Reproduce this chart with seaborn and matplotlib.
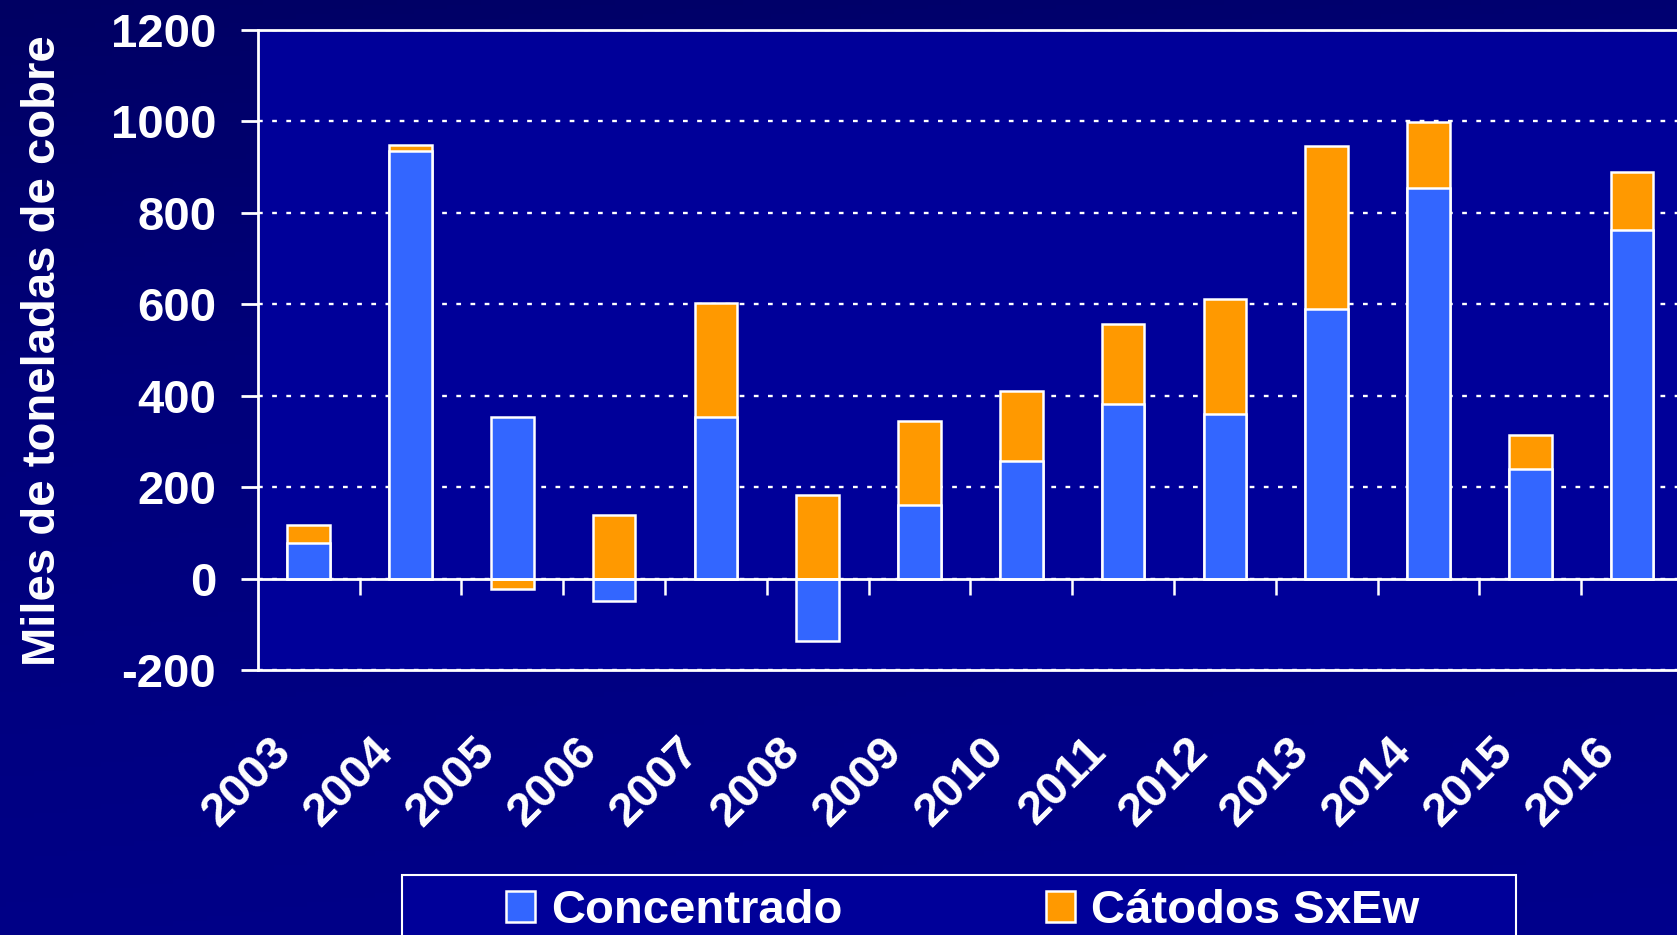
import numpy as np
import pandas as pd
import matplotlib
matplotlib.use("Agg")
import matplotlib.pyplot as plt
import matplotlib.transforms as mtransforms
from matplotlib.patches import Rectangle
from matplotlib.colors import LinearSegmentedColormap
import seaborn as sns

# -------------------------------
# data (miles de toneladas de cobre)
# -------------------------------
years = [str(y) for y in range(2003, 2017)]
concentrado = [77, 936, 353, -50, 353, -137, 160, 257, 381, 359, 590, 854, 240, 762]
catodos = [40, 12, -23, 140, 250, 183, 185, 154, 175, 253, 356, 144, 74, 127]
yticks = [-200, 0, 200, 400, 600, 800, 1000, 1200]

# orange sits on top of blue only when both are positive
catodos_top = [c + k if (c > 0 and k > 0) else k for c, k in zip(concentrado, catodos)]

df = pd.DataFrame({"year": years, "conc": concentrado, "cat_top": catodos_top})

# -------------------------------
# style
# -------------------------------
sns.set_style("white")
plt.rcParams["font.family"] = ["Liberation Sans", "DejaVu Sans"]
plt.rcParams["font.weight"] = "bold"
plt.rcParams["axes.unicode_minus"] = False

W, H = 1677, 935
fig = plt.figure(figsize=(W / 100, H / 100), dpi=100)
fig.patch.set_facecolor("#000078")

# background gradient
bg = fig.add_axes([0, 0, 1, 1], zorder=-10)
yy, xx = np.mgrid[0:1:200j, 0:1:300j]
val = 0.25 + 0.6 * yy + 0.15 * xx
bg_cmap = LinearSegmentedColormap.from_list("bg", ["#00004C", "#00007A", "#00008C"])
bg.imshow(val, cmap=bg_cmap, aspect="auto", extent=(0, 1, 0, 1), vmin=0, vmax=1, origin="upper")
bg.axis("off")

ax = fig.add_axes([257.8 / W, 1 - 670 / H, (1683 - 257.8) / W, 640 / H])
ax.set_facecolor("#000099")

blue = "#3366FF"
orange = "#FF9900"

sns.barplot(data=df, x="year", y="cat_top", color=orange, width=0.42, saturation=1,
            edgecolor="white", linewidth=1.8, label="Cátodos SxEw", ax=ax, zorder=3)
sns.barplot(data=df, x="year", y="conc", color=blue, width=0.42, saturation=1,
            edgecolor="white", linewidth=1.8, label="Concentrado", ax=ax, zorder=4)
handles, labels = ax.get_legend_handles_labels()
if ax.get_legend() is not None:
    ax.get_legend().remove()

ax.set_xlim(-0.5, len(years) - 0.5)
ax.set_ylim(-200, 1200)
ax.set_yticks(yticks)
ax.set_xlabel("")
ax.set_ylabel("")

# grid
ax.yaxis.grid(True, color="white", linestyle=(0, (2, 4)), linewidth=1.7, zorder=1)
ax.xaxis.grid(False)
ax.set_axisbelow(True)

# zero line and boundary ticks
ax.axhline(0, color="white", linewidth=2, zorder=5)
ax.vlines(np.arange(0.5, len(years) - 1), -36, 0, color="white", linewidth=1.8, zorder=5)

for side in ["left", "top", "bottom"]:
    ax.spines[side].set_color("white")
    ax.spines[side].set_linewidth(2)
ax.spines["right"].set_visible(False)

ax.tick_params(axis="y", colors="white", length=12, width=2, direction="out",
               labelsize=34, pad=18, left=True)
ax.tick_params(axis="x", colors="white", length=0, labelsize=34, pad=54)
shift = mtransforms.ScaledTranslation(-24 / 100, 0, fig.dpi_scale_trans)
for lab in ax.get_xticklabels():
    lab.set_rotation(45)
    lab.set_ha("right")
    lab.set_va("center")
    lab.set_rotation_mode("anchor")
    lab.set_fontweight("bold")
    lab.set_transform(lab.get_transform() + shift)
for lab in ax.get_yticklabels():
    lab.set_fontweight("bold")

fig.text(43 / W, 1 - 351 / H, "Miles de toneladas de cobre", rotation=90,
         ha="center", va="center", color="white", fontsize=34, fontweight="bold")

# legend box (runs off the bottom edge)
box_top = 1 - 875 / H
fig.add_artist(Rectangle((402 / W, -0.05), (1516 - 402) / W, box_top + 0.05,
                         transform=fig.transFigure, facecolor="#000099",
                         edgecolor="white", linewidth=1.5, zorder=1))

handles, labels = handles[::-1], labels[::-1]
leg = fig.legend(handles, labels, loc="center left", bbox_to_anchor=(506 / W, 1 - 911 / H),
                 frameon=False, ncol=2, fontsize=34, handlelength=0.62, handleheight=0.66,
                 handletextpad=0.34, columnspacing=4.3, borderpad=0, borderaxespad=0)
leg.set_zorder(2)
for t in leg.get_texts():
    t.set_color("white")
    t.set_fontweight("bold")

fig.savefig("out.png", dpi=100, facecolor=fig.get_facecolor())
